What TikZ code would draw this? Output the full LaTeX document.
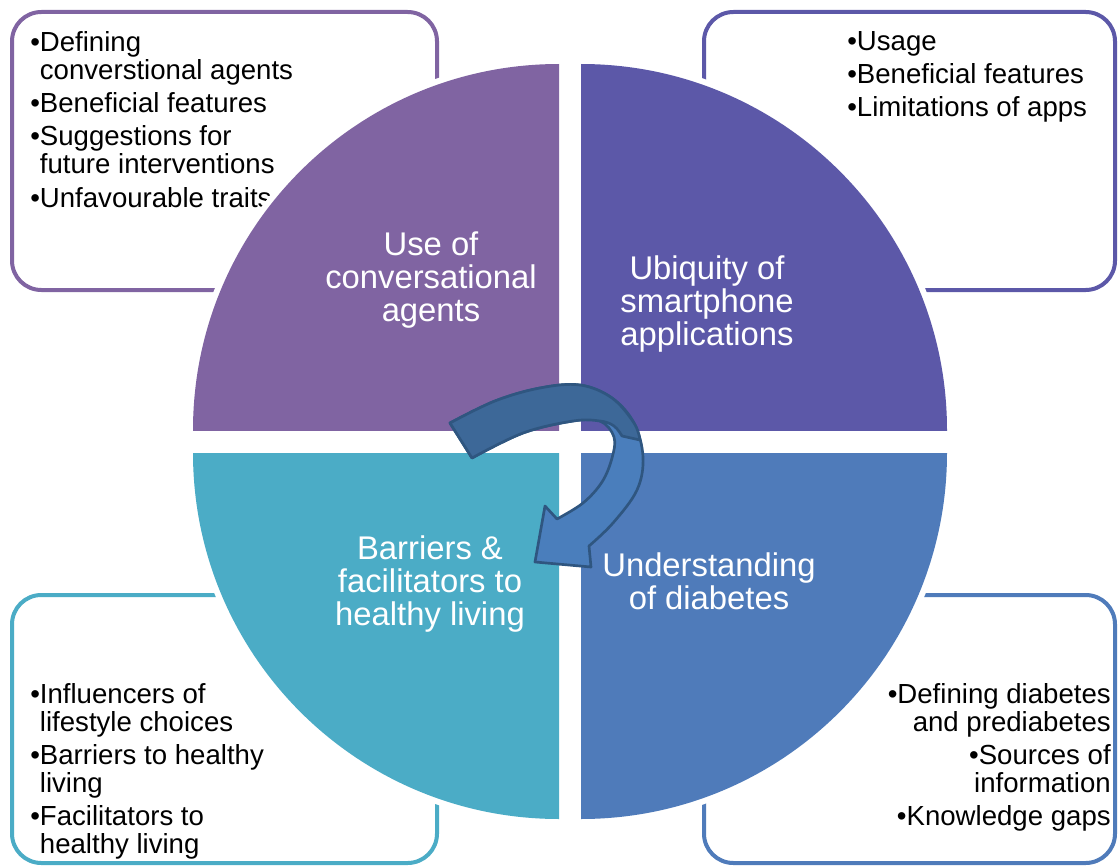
\documentclass[tikz,border=0pt]{standalone}
\usepackage{fontspec}
\setmainfont{Liberation Sans}
\usepackage{xcolor}
\definecolor{cagent}{HTML}{8064A2}
\definecolor{capps}{HTML}{5C58A8}
\definecolor{cliving}{HTML}{4BACC6}
\definecolor{cdiab}{HTML}{4F7BBA}
\definecolor{arrowdark}{HTML}{3D6898}
\definecolor{arrowlight}{HTML}{4A7EBC}
\definecolor{arrowline}{HTML}{2F5680}

\newcommand{\bul}{\textbullet}
\newcommand{\ind}{\phantom{\textbullet}}

\begin{document}
\begin{tikzpicture}[
    x=0.75pt, y=-0.75pt,
    listbox/.style={rounded corners=22pt, line width=3pt, fill=white},
    itemtext/.style={inner sep=0pt, font=\fontsize{20.7}{21}\selectfont, text=black},
    quartertext/.style={inner sep=0pt, align=center, text=white, font=\fontsize{24.6}{25}\selectfont},
    bandline/.style={draw=arrowline, line width=2pt, line join=round}
]
\useasboundingbox (0,0) rectangle (1118,867);

\draw[listbox, draw=cagent] (12,12) rectangle (437,290);
\draw[listbox, draw=capps] (704,12) rectangle (1115,290);
\draw[listbox, draw=cliving] (12,595) rectangle (437,863);
\draw[listbox, draw=cdiab] (704,595) rectangle (1115,863);

\node[itemtext, anchor=north west, align=left] (agentlist) at (30,31)
    {\bul Defining\\\ind converstional agents\\[4pt]\bul Beneficial features\\[4pt]\bul Suggestions for\\\ind future interventions\\[4pt]\bul Unfavourable traits};
\node[itemtext, anchor=north west, align=left] (appslist) at (847,31)
    {\bul Usage\\[4pt]\bul Beneficial features\\[4pt]\bul Limitations of apps};
\node[itemtext, anchor=north west, align=left] (livinglist) at (30,683)
    {\bul Influencers of\\\ind lifestyle choices\\[4pt]\bul Barriers to healthy\\\ind living\\[4pt]\bul Facilitators to\\\ind healthy living};
\node[itemtext, anchor=north east, align=right] (diablist) at (1111,683)
    {\bul Defining diabetes\\and prediabetes\\[4pt]\bul Sources of\\information\\[4pt]\bul Knowledge gaps};

\foreach \cx/\cy/\qx/\qy/\col in {559/430/185/55/cagent, 581/430/955/55/capps, 559/453/185/827/cliving, 581/453/955/827/cdiab} {
    \begin{scope}
        \clip (\cx,\cy) rectangle (\qx,\qy);
        \fill[white] (\cx,\cy) circle[radius=372];
        \fill[\col] (\cx,\cy) circle[radius=366];
    \end{scope}
}

\node[quartertext] (agents) at (431,280) {Use of\\conversational\\agents};
\node[quartertext] (apps) at (707,304) {Ubiquity of\\smartphone\\applications};
\node[quartertext] (living) at (430,584) {Barriers \&\\facilitators to\\healthy living};
\node[quartertext] (diabetes) at (709,581) {Understanding\\of diabetes};

\path[fill=arrowlight, bandline] (472,458) -- (450,423)
    -- plot[smooth, tension=0.6] coordinates {(450,423) (495,401) (540,388) (580,385) (612,398) (634,423) (643,457) (637,490) (613,523) (589,546)}
    -- (591,567) -- (535,562) -- (545,506) -- (557,519)
    -- plot[smooth, tension=0.6] coordinates {(557,519) (583,503) (602,482) (612,458) (614,437) (600,421) (573,421) (523,433) (472,458)}
    -- cycle;
\path[fill=arrowdark, bandline] (472,458) -- (450,423)
    -- plot[smooth, tension=0.6] coordinates {(450,423) (495,401) (540,388) (580,385) (612,398) (634,423) (640,440)}
    -- (622,436)
    -- plot[smooth, tension=0.6] coordinates {(622,436) (614,426) (600,421) (573,421) (523,433) (472,458)}
    -- cycle;
\end{tikzpicture}
\end{document}
